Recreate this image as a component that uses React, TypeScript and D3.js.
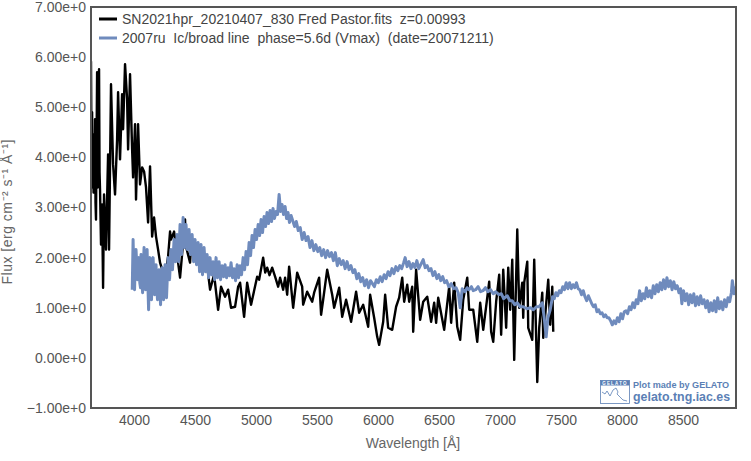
import { useEffect, useRef } from "react";
import * as d3 from "d3";

type Point = [number, number];

const xTicks = [4000, 4500, 5000, 5500, 6000, 6500, 7000, 7500, 8000, 8500];
const yTicks = [-1, 0, 1, 2, 3, 4, 5, 6, 7];
const xDomain = [3647, 8934];
const yDomain = [-1, 7];

const xTitle = "Wavelength [Å]";
const yTitle = "Flux [erg cm⁻² s⁻¹ Å⁻¹]";
const snLabel = "SN2021hpr_20210407_830 Fred Pastor.fits  z=0.00993";
const refLabel = "2007ru  Ic/broad line  phase=5.6d (Vmax)  (date=20071211)";

// [wavelength, flux]
const snSpectrum: Point[] = [
  [3647, 5.92], [3652, 3.6], [3656, 4.9], [3660, 3.4], [3664, 4.46], [3668, 3.3], [3672, 4.2], [3676, 3.46], [3680, 4.76], [3684, 3.1], [3688, 2.76], [3697, 5.7], [3701, 3.4], [3705, 4.9],
  [3713, 5.76], [3717, 3.7], [3721, 3.36], [3729, 2.26], [3738, 3.06], [3746, 1.4], [3754, 3.26], [3770, 2.16], [3787, 4.06],
  [3795, 2.16], [3811, 5.46], [3828, 3.86], [3844, 3.26], [3861, 4.36], [3869, 5.3], [3885, 3.96], [3902, 5.26],
  [3910, 4.56], [3926, 5.86], [3943, 5.16], [3951, 4.16], [3967, 5.66], [3984, 4.16], [3992, 3.6], [4008, 4.66],
  [4016, 3.16], [4033, 4.66], [4049, 3.46], [4066, 3.8], [4082, 3.72], [4098, 3.4], [4115, 2.7], [4131, 3.82], [4148, 2.42],
  [4164, 2.8], [4180, 2.42], [4197, 2.16], [4213, 1.9], [4238, 1.7], [4254, 1.62], [4279, 2.02], [4295, 2.52],
  [4303, 2.36], [4328, 2.52], [4361, 1.9], [4377, 1.6], [4402, 2.3], [4418, 2.76], [4426, 2.22], [4459, 1.9],
  [4467, 2.22], [4525, 1.9], [4566, 2.1], [4590, 2.02], [4623, 1.36], [4656, 1.66], [4689, 0.96], [4713, 1.42],
  [4746, 1.22], [4771, 1.36], [4795, 1.0], [4828, 1.02], [4853, 1.42], [4869, 1.5], [4902, 0.82], [4927, 1.5],
  [4959, 1.06], [5009, 1.62], [5025, 1.56], [5058, 2.0], [5075, 1.7], [5091, 1.8], [5110, 1.65], [5132, 1.8], [5156, 1.62], [5181, 1.42],
  [5197, 1.6], [5222, 1.36], [5238, 1.6], [5255, 1.26], [5271, 1.82], [5304, 1.0], [5337, 1.7], [5378, 1.42],
  [5386, 1.06], [5419, 1.32], [5460, 1.12], [5476, 1.3], [5517, 1.6], [5533, 0.86], [5550, 1.16], [5583, 1.76],
  [5624, 1.26], [5640, 1.0], [5681, 1.4], [5706, 0.82], [5738, 1.16], [5779, 0.72], [5820, 1.32], [5845, 0.9],
  [5878, 1.06], [5919, 0.62], [5935, 1.26], [5968, 0.8], [5993, 0.42], [6009, 0.26], [6042, 0.72], [6058, 1.26],
  [6083, 0.6], [6116, 0.56], [6148, 1.02], [6173, 1.2], [6198, 1.6], [6214, 1.12], [6239, 1.46], [6255, 1.12],
  [6280, 1.42], [6288, 0.52], [6312, 1.76], [6345, 0.76], [6370, 1.12], [6403, 1.22], [6435, 0.72], [6460, 1.1],
  [6476, 0.7], [6493, 1.2], [6542, 0.56], [6583, 1.42], [6599, 0.7], [6624, 1.5], [6649, 0.62], [6673, 0.36],
  [6698, 1.16], [6731, 1.6], [6747, 0.96], [6780, 0.96], [6813, 0.32], [6837, 1.1], [6862, 0.56], [6895, 1.2],
  [6911, 1.52], [6927, 0.52], [6944, 0.32], [6968, 1.12], [6993, 1.66], [7009, 0.46], [7026, 1.76], [7050, 0.6],
  [7067, 1.8], [7083, 0.96], [7100, 1.96], [7116, -0.04], [7141, 2.56], [7157, 1.0], [7182, 1.5], [7190, 0.8],
  [7198, 1.5], [7223, 1.92], [7231, 0.6], [7264, 0.36], [7280, 1.96], [7305, -0.48], [7321, 0.6], [7346, 1.3],
  [7354, 0.4], [7395, 1.56], [7411, 0.66], [7428, 1.42], [7436, 0.52],
];

const refSpectrum: Point[] = [
  [3985, 1.36], [3992, 2.36], [3998, 1.7], [4004, 1.36], [4010, 1.9], [4016, 2.16], [4028, 1.56], [4041, 2.0], [4047, 1.5], [4053, 1.4], [4057, 2.06],
  [4070, 1.3], [4076, 1.8], [4082, 2.2], [4094, 1.36], [4100, 1.7], [4107, 2.16], [4113, 1.5], [4119, 0.96], [4125, 1.6], [4131, 2.0], [4143, 1.16], [4150, 1.7], [4156, 2.0],
  [4168, 1.26], [4180, 1.86], [4186, 1.4], [4192, 1.16], [4205, 1.76], [4217, 1.06], [4224, 1.5], [4230, 1.8], [4242, 1.16], [4254, 1.86], [4260, 1.45],
  [4266, 1.2], [4279, 2.0], [4291, 1.56], [4303, 2.16], [4315, 1.76], [4328, 2.36], [4340, 1.92], [4353, 2.46],
  [4365, 1.92], [4377, 2.66], [4389, 2.06], [4402, 2.8], [4414, 2.2], [4426, 2.66], [4438, 2.16], [4451, 2.56],
  [4463, 2.06], [4476, 2.46], [4488, 1.92], [4500, 2.36], [4512, 1.86], [4525, 2.3], [4537, 1.72], [4549, 2.26],
  [4561, 1.66], [4574, 2.2], [4586, 1.72], [4599, 2.06], [4611, 1.6], [4623, 2.0], [4635, 1.66], [4648, 1.92],
  [4660, 1.56], [4672, 2.0], [4684, 1.6], [4697, 1.92], [4709, 1.56], [4722, 1.84], [4734, 1.62], [4746, 1.86],
  [4758, 1.6], [4771, 1.8], [4783, 1.64], [4795, 1.9], [4807, 1.6], [4820, 1.78], [4832, 1.54], [4845, 1.86],
  [4857, 1.6], [4869, 1.84], [4881, 1.66], [4894, 2.0], [4906, 1.76], [4918, 2.12], [4930, 1.86], [4943, 2.3],
  [4955, 2.04], [4967, 2.44], [4979, 2.2], [4992, 2.56], [5004, 2.36], [5017, 2.66], [5029, 2.44], [5041, 2.76],
  [5053, 2.5], [5066, 2.82], [5078, 2.62], [5090, 2.9], [5102, 2.68], [5115, 2.94], [5127, 2.72], [5139, 2.98],
  [5151, 2.78], [5164, 2.92], [5176, 2.86], [5189, 3.26], [5201, 2.92], [5213, 3.06], [5225, 2.86], [5238, 3.02],
  [5250, 2.78], [5262, 2.9], [5274, 2.7], [5287, 2.84], [5300, 2.74], [5316, 2.62], [5330, 2.72], [5346, 2.54], [5362, 2.6], [5378, 2.36],
  [5394, 2.5], [5410, 2.34], [5426, 2.42], [5442, 2.2], [5458, 2.34], [5474, 2.14], [5490, 2.26], [5506, 2.12], [5522, 2.2], [5538, 2.04], [5554, 2.16], [5570, 2.0],
  [5586, 2.14], [5602, 2.02], [5618, 2.1], [5634, 1.94], [5650, 2.1], [5666, 1.84], [5682, 1.98], [5698, 1.86], [5714, 1.94], [5730, 1.78], [5746, 1.92], [5762, 1.76],
  [5778, 1.84], [5794, 1.7], [5810, 1.76], [5826, 1.58], [5842, 1.68], [5858, 1.52], [5874, 1.6], [5890, 1.44], [5906, 1.56], [5922, 1.4], [5938, 1.54], [5954, 1.48], [5970, 1.42],
  [5986, 1.56], [6002, 1.5], [6018, 1.62], [6034, 1.52], [6050, 1.66], [6066, 1.58], [6082, 1.72], [6098, 1.64], [6114, 1.78], [6130, 1.68], [6146, 1.82], [6162, 1.74],
  [6178, 1.84], [6194, 1.78], [6210, 1.9], [6222, 2.0], [6238, 1.82], [6254, 1.92], [6270, 1.78], [6286, 1.88], [6302, 1.8], [6318, 1.94], [6334, 1.78], [6350, 1.86], [6370, 1.96],
  [6386, 1.8], [6402, 1.84], [6418, 1.74], [6434, 1.78], [6450, 1.64], [6466, 1.72], [6482, 1.58], [6498, 1.66], [6514, 1.54], [6530, 1.62], [6546, 1.5], [6562, 1.54],
  [6580, 1.42], [6600, 1.48], [6620, 1.38], [6640, 1.4], [6657, 1.3], [6673, 1.0], [6690, 1.38], [6714, 1.32], [6730, 1.4], [6745, 1.36], [6765, 1.42], [6780, 1.34],
  [6800, 1.36], [6820, 1.42], [6840, 1.32], [6860, 1.34], [6880, 1.4], [6900, 1.32], [6922, 1.36], [6944, 1.28], [6965, 1.32], [6990, 1.26], [7010, 1.28], [7030, 1.18], [7059, 1.24], [7080, 1.14], [7100, 1.14],
  [7120, 1.06], [7140, 1.1], [7165, 1.02], [7190, 1.02], [7220, 0.98], [7250, 1.0], [7272, 0.96], [7300, 1.02], [7320, 1.02], [7346, 1.1], [7362, 0.8], [7378, 0.42],
  [7392, 0.8], [7411, 0.96], [7430, 1.22], [7444, 1.18], [7458, 1.3], [7472, 1.24], [7486, 1.34], [7500, 1.3], [7514, 1.42], [7528, 1.36], [7542, 1.5], [7556, 1.38], [7570, 1.5],
  [7584, 1.38], [7598, 1.46], [7612, 1.4], [7626, 1.5], [7640, 1.38], [7654, 1.36], [7668, 1.26], [7682, 1.34], [7696, 1.22], [7710, 1.14], [7724, 1.24], [7738, 1.16],
  [7752, 1.08], [7766, 1.02], [7780, 1.06], [7794, 0.92], [7808, 0.96], [7822, 0.88], [7836, 0.9], [7850, 0.82], [7864, 0.86], [7878, 0.8], [7892, 0.8], [7906, 0.74], [7920, 0.66], [7934, 0.74],
  [7948, 0.68], [7962, 0.8], [7976, 0.72], [7990, 0.88], [8004, 0.78], [8018, 0.92], [8032, 0.94], [8046, 0.88], [8060, 1.02], [8074, 0.96], [8088, 1.1], [8102, 1.0], [8116, 1.16],
  [8130, 1.08], [8144, 1.34], [8158, 1.14], [8172, 1.28], [8186, 1.18], [8200, 1.4], [8214, 1.22], [8228, 1.34], [8242, 1.2], [8256, 1.44], [8270, 1.28], [8284, 1.46], [8298, 1.32],
  [8312, 1.5], [8326, 1.36], [8340, 1.56], [8354, 1.38], [8368, 1.6], [8382, 1.42], [8396, 1.54], [8410, 1.36], [8424, 1.52], [8438, 1.38], [8452, 1.44], [8466, 1.3], [8480, 1.38],
  [8490, 1.08], [8504, 1.34], [8518, 1.14], [8532, 1.28], [8546, 1.06], [8560, 1.26], [8574, 1.1], [8588, 1.28], [8602, 1.04], [8616, 1.22], [8630, 1.06], [8644, 1.24], [8658, 1.08],
  [8672, 1.16], [8686, 1.0], [8700, 1.14], [8714, 0.92], [8728, 1.1], [8742, 0.94], [8756, 1.14], [8770, 0.92], [8784, 1.2], [8798, 0.98], [8812, 1.12], [8826, 0.96], [8840, 1.16],
  [8854, 1.02], [8868, 1.2], [8882, 1.12], [8896, 1.3], [8904, 1.54], [8918, 1.28], [8936, 1.42],
];

const width = 751;
const height = 461;
const margin = { top: 7, right: 15, bottom: 53, left: 91 };
const textColor = "#555";
const snColor = "#000";
const refColor = "#6f8bbd";
const logoColor = "#5b7fb5";
const fontFamily = "'Liberation Sans', Arial, sans-serif";

export default function App() {
  const chartRef = useRef<SVGSVGElement | null>(null);

  useEffect(() => {
    if (!chartRef.current) return;
    const root = d3.select(chartRef.current);
    root.selectAll("*").remove();

    const x = d3.scaleLinear().domain(xDomain).range([margin.left, width - margin.right]);
    const y = d3.scaleLinear().domain(yDomain).range([height - margin.bottom, margin.top]);

    root
      .append("clipPath")
      .attr("id", "plot-area")
      .append("rect")
      .attr("x", margin.left)
      .attr("y", margin.top)
      .attr("width", width - margin.left - margin.right)
      .attr("height", height - margin.top - margin.bottom);

    const line = d3
      .line<Point>()
      .x((d) => x(d[0]))
      .y((d) => y(d[1]));

    const plot = root.append("g").attr("clip-path", "url(#plot-area)");
    plot
      .append("path")
      .attr("d", line(snSpectrum))
      .attr("fill", "none")
      .attr("stroke", snColor)
      .attr("stroke-width", 2.4)
      .attr("stroke-linejoin", "round");
    plot
      .append("path")
      .attr("d", line(refSpectrum))
      .attr("fill", "none")
      .attr("stroke", refColor)
      .attr("stroke-width", 3)
      .attr("stroke-linejoin", "round");

    // frame
    root
      .append("rect")
      .attr("x", margin.left)
      .attr("y", margin.top)
      .attr("width", width - margin.left - margin.right)
      .attr("height", height - margin.top - margin.bottom)
      .attr("fill", "none")
      .attr("stroke", "#555")
      .attr("stroke-width", 2);

    // axes, labels only
    const xAxis = d3
      .axisBottom<number>(x)
      .tickValues(xTicks)
      .tickSize(0)
      .tickPadding(7)
      .tickFormat(d3.format("d"));
    const yAxis = d3
      .axisLeft<number>(y)
      .tickValues(yTicks)
      .tickSize(0)
      .tickPadding(5)
      .tickFormat((d) => d3.format(".2f")(d) + "e+0");

    const gx = root
      .append("g")
      .attr("transform", `translate(0,${height - margin.bottom})`)
      .call(xAxis);
    const gy = root.append("g").attr("transform", `translate(${margin.left},0)`).call(yAxis);
    [gx, gy].forEach((g) => {
      g.select(".domain").remove();
      g.selectAll("text")
        .style("font-family", fontFamily)
        .style("font-size", "14px")
        .style("fill", textColor);
    });

    root
      .append("text")
      .attr("x", 413)
      .attr("y", 448)
      .attr("text-anchor", "middle")
      .style("font-family", fontFamily)
      .style("font-size", "14px")
      .style("fill", "#666")
      .text(xTitle);
    root
      .append("text")
      .attr("transform", "translate(12,212) rotate(-90)")
      .attr("text-anchor", "middle")
      .attr("textLength", 145)
      .attr("lengthAdjust", "spacing")
      .style("font-family", fontFamily)
      .style("font-size", "14px")
      .style("fill", "#666")
      .text(yTitle);

    // legend
    const legend = [
      { label: snLabel, color: snColor, rowY: 19 },
      { label: refLabel, color: refColor, rowY: 38 },
    ];
    legend.forEach((d) => {
      root
        .append("line")
        .attr("x1", 99)
        .attr("x2", 117)
        .attr("y1", d.rowY)
        .attr("y2", d.rowY)
        .attr("stroke", d.color)
        .attr("stroke-width", 3);
      root
        .append("text")
        .attr("x", 122)
        .attr("y", d.rowY + 5)
        .style("font-family", fontFamily)
        .style("font-size", "14px")
        .style("fill", "#444")
        .style("white-space", "pre")
        .text(d.label);
    });

    // logo
    const logo = root.append("g");
    logo
      .append("rect")
      .attr("x", 597)
      .attr("y", 378)
      .attr("width", 137)
      .attr("height", 28)
      .attr("fill", "#fff");
    logo
      .append("rect")
      .attr("x", 600.5)
      .attr("y", 380.5)
      .attr("width", 29)
      .attr("height", 23)
      .attr("fill", "#fff")
      .attr("stroke", logoColor)
      .attr("stroke-width", 0.8);
    logo
      .append("rect")
      .attr("x", 600.5)
      .attr("y", 380.5)
      .attr("width", 29)
      .attr("height", 5)
      .attr("fill", logoColor);
    logo
      .append("text")
      .attr("x", 615)
      .attr("y", 385)
      .attr("text-anchor", "middle")
      .style("font-family", fontFamily)
      .style("font-size", "4.5px")
      .style("font-weight", "bold")
      .style("letter-spacing", "1.2px")
      .style("fill", "#fff")
      .text("GELATO");
    logo
      .append("path")
      .attr("d", "M602 392l3 2 2-3 3 5 3-6 3-2 2 4-1 2 3 3 3 3 4 1")
      .attr("fill", "none")
      .attr("stroke", logoColor)
      .attr("stroke-width", 0.8);
    logo
      .append("text")
      .attr("x", 633)
      .attr("y", 388)
      .style("font-family", fontFamily)
      .style("font-size", "9.1px")
      .style("font-weight", "bold")
      .style("fill", logoColor)
      .text("Plot made by GELATO");
    logo
      .append("text")
      .attr("x", 633)
      .attr("y", 401)
      .style("font-family", fontFamily)
      .style("font-size", "12.4px")
      .style("font-weight", "bold")
      .style("fill", logoColor)
      .text("gelato.tng.iac.es");
  }, []);

  return (
    <svg
      ref={chartRef}
      width={width}
      height={height}
      style={{ position: "absolute", left: 0, top: 0, background: "#fff" }}
    />
  );
}
